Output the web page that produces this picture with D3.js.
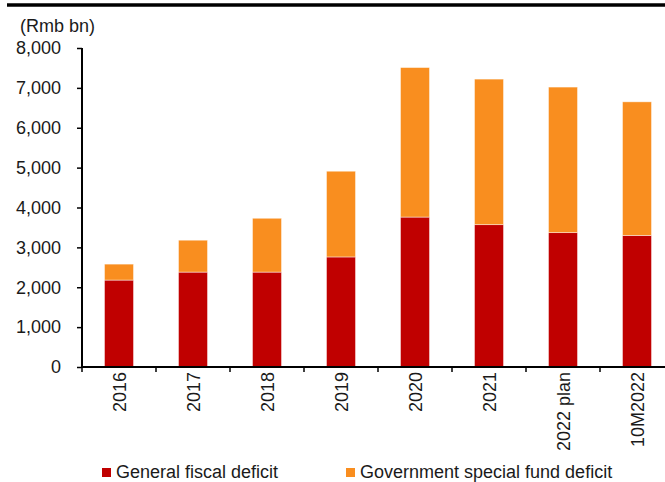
<!DOCTYPE html>
<html>
<head>
<meta charset="utf-8">
<script src="https://cdn.jsdelivr.net/npm/d3@7/dist/d3.min.js"></script>
<style>
  html, body { margin: 0; padding: 0; background: #fff; }
  svg { display: block; }
  text { font-family: "Liberation Sans", Arial, sans-serif; fill: #1a1a1a; }
</style>
</head>
<body>
<div id="chart"></div>
<script>
// Fiscal deficits, Rmb bn
const categories = ["2016", "2017", "2018", "2019", "2020", "2021", "2022 plan", "10M2022"];
const generalFiscalDeficit = [2180, 2380, 2380, 2760, 3760, 3570, 3370, 3300];
const specialFundDeficit   = [400, 800, 1350, 2150, 3750, 3650, 3650, 3350];
const yTicks = [0, 1000, 2000, 3000, 4000, 5000, 6000, 7000, 8000];
const seriesNames = ["General fiscal deficit", "Government special fund deficit"];
const seriesColors = ["#C00000", "#F98E1F"];

const W = 665, H = 482;
const svg = d3.select("#chart").append("svg")
  .attr("width", W).attr("height", H);

// heavy rule across the top of the exhibit
svg.append("line")
  .attr("x1", 7).attr("x2", W)
  .attr("y1", 5).attr("y2", 5)
  .attr("stroke", "#000").attr("stroke-width", 3.5);

const plot = { left: 82, right: 674, top: 48, bottom: 367 };

const x = d3.scaleBand()
  .domain(categories)
  .range([plot.left, plot.right])
  .paddingInner(0.608)
  .paddingOuter(0.304);

const y = d3.scaleLinear()
  .domain([0, 8000])
  .range([plot.bottom, plot.top]);

const rows = categories.map((c, i) => ({
  cat: c,
  general: generalFiscalDeficit[i],
  special: specialFundDeficit[i]
}));
const stack = d3.stack().keys(["general", "special"])(rows);

// stacked bars
svg.append("g").selectAll("g")
  .data(stack)
  .join("g")
  .attr("fill", (d, i) => seriesColors[i])
  .selectAll("rect")
  .data(d => d)
  .join("rect")
  .attr("x", d => x(d.data.cat))
  .attr("width", x.bandwidth())
  .attr("y", d => y(d[1]))
  .attr("height", d => y(d[0]) - y(d[1]))
  .attr("stroke", "rgba(255,255,255,0.55)")
  .attr("stroke-width", 0.8);

// y axis
const yAxis = svg.append("g")
  .attr("transform", `translate(${plot.left},0)`)
  .call(d3.axisLeft(y).tickValues(yTicks).tickSize(5).tickPadding(16)
    .tickFormat(d3.format(",")));
yAxis.select(".domain").attr("stroke", "#000").attr("stroke-width", 2)
  .attr("d", `M0,${plot.top}V${plot.bottom}`);
yAxis.selectAll(".tick line").attr("stroke", "#000").attr("stroke-width", 1.5);
yAxis.selectAll(".tick text").attr("font-size", 18).attr("fill", "#1a1a1a");

// x axis, with ticks on the category boundaries
const xAxisG = svg.append("g")
  .attr("transform", `translate(0,${plot.bottom})`);
xAxisG.append("line")
  .attr("x1", plot.left).attr("x2", W)
  .attr("stroke", "#000").attr("stroke-width", 2);
const step = x.step();
const boundaries = d3.range(categories.length + 1).map(i => plot.left + i * step);
xAxisG.selectAll(".bt")
  .data(boundaries)
  .join("line")
  .attr("class", "bt")
  .attr("x1", d => d).attr("x2", d => d)
  .attr("y1", 0).attr("y2", 5)
  .attr("stroke", "#000").attr("stroke-width", 1.5);
xAxisG.selectAll(".xl")
  .data(categories)
  .join("text")
  .attr("class", "xl")
  .attr("transform", d => `translate(${x(d) + x.bandwidth() / 2 + 1},5) rotate(-90)`)
  .attr("text-anchor", "end")
  .attr("dy", "0.36em")
  .attr("font-size", 18)
  .text(d => d);

// unit label
svg.append("text")
  .attr("x", 20).attr("y", 32)
  .attr("font-size", 18)
  .text("(Rmb bn)");

// legend
const legendX = [102, 346];
const legend = svg.append("g");
seriesNames.forEach((name, i) => {
  legend.append("rect")
    .attr("x", legendX[i]).attr("y", 468)
    .attr("width", 9).attr("height", 9)
    .attr("fill", seriesColors[i]);
  legend.append("text")
    .attr("x", legendX[i] + 14).attr("y", 477.5)
    .attr("font-size", 18)
    .text(name);
});
</script>
</body>
</html>
